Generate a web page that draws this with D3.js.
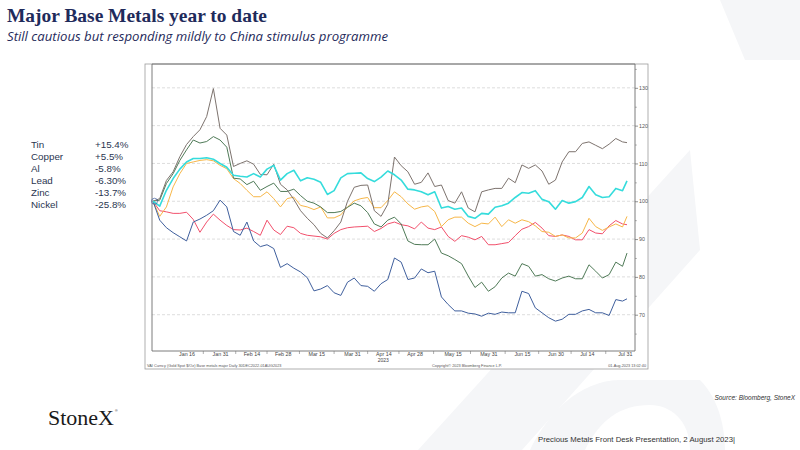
<!DOCTYPE html>
<html>
<head>
<meta charset="utf-8">
<script src="https://cdn.jsdelivr.net/npm/d3@7"></script>
<style>
  body { margin: 0; background: #fff; }
  svg { display: block; }
</style>
</head>
<body>
<svg width="800" height="450"></svg>
<script>
// sample dates (every 3 days, Jan 1 -> Aug 1 2023)
const dates = [
  "2023-01-01","2023-01-04","2023-01-07","2023-01-10","2023-01-13","2023-01-16","2023-01-19","2023-01-22","2023-01-25","2023-01-28","2023-01-31",
  "2023-02-03","2023-02-06","2023-02-09","2023-02-12","2023-02-15","2023-02-18","2023-02-21","2023-02-24","2023-02-27",
  "2023-03-02","2023-03-05","2023-03-08","2023-03-11","2023-03-14","2023-03-17","2023-03-20","2023-03-23","2023-03-26","2023-03-29",
  "2023-04-01","2023-04-04","2023-04-07","2023-04-10","2023-04-13","2023-04-16","2023-04-19","2023-04-22","2023-04-25","2023-04-28",
  "2023-05-01","2023-05-04","2023-05-07","2023-05-10","2023-05-13","2023-05-16","2023-05-19","2023-05-22","2023-05-25","2023-05-28","2023-05-31",
  "2023-06-03","2023-06-06","2023-06-09","2023-06-12","2023-06-15","2023-06-18","2023-06-21","2023-06-24","2023-06-27","2023-06-30",
  "2023-07-03","2023-07-06","2023-07-09","2023-07-12","2023-07-15","2023-07-18","2023-07-21","2023-07-24","2023-07-27","2023-07-30",
  "2023-08-01"
];

// indexed to 100 at start of year
const tin = [100, 100.7, 105.5, 107.8, 111.8, 115, 117.1, 118.9, 122.4, 129.8,
  119.3, 117.5, 109.2, 110, 110.7, 109.8, 107.1, 107, 109.8, 104.5,
  103, 100.5, 97.5, 95.5, 93.8, 91.5, 90.3, 92.2, 94.5, 100,
  103.7, 104.2, 104.3, 97.5, 96, 99.2, 111.7, 109.4, 107.8, 104.5,
  105, 107.5, 103.9, 104.3, 100.2, 99.5, 102.5, 98.2, 97.2, 102.5,
  103, 103.4, 103.4, 106.1, 104.9, 109.6, 108.7, 109.6, 108, 104.5,
  105.6, 110.4, 113.1, 113.1, 115.3, 115.7, 114.8, 113.9, 115.1, 116.6,
  115.7, 115.5];
const copper = [100, 98.7, 102.9, 106, 108.5, 110.4, 111.3, 111.3, 111.5, 111.1,
  110, 109, 106.9, 106.6, 106.4, 107.3, 106.4, 108.5, 109.5, 105.6,
  107.3, 108.2, 105.4, 106.2, 105.8, 105, 101.8, 102.8, 106.2, 107.3,
  107.4, 107.5, 106, 105.2, 106.4, 108, 107, 105.6, 103.2, 103,
  102.5, 101.7, 102.5, 98.2, 98.6, 97.9, 98.2, 96, 95.5, 96.8,
  96.6, 98.4, 98.8, 99.5, 101, 102.3, 102.1, 102.8, 100.5, 99.9,
  97.9, 100.2, 99.5, 99.9, 101, 103.9, 101.7, 101, 101.2, 103.4,
  102.8, 105.4];
const al = [100, 96, 98.5, 103.8, 107.3, 110, 110.4, 110.8, 111, 110.7,
  109.5, 108.6, 106, 104.7, 102.9, 101.2, 101.2, 102.5, 100.7, 98.5,
  100.7, 101.1, 98.9, 98.5, 97.8, 98.5, 95.6, 95.6, 96.4, 98.5,
  100.1, 100.7, 101, 98.3, 98.3, 100.2, 102.5, 101.2, 99.3, 97.9,
  98.5, 98.8, 97.3, 93.3, 95.1, 95.8, 95.8, 94.2, 93.3, 94.2,
  94, 95.8, 93.3, 95.1, 94.2, 95.1, 94.6, 93.5, 92, 91.8,
  90.7, 91.1, 90.3, 90.3, 91.6, 95.5, 93.3, 92.3, 93.2, 94,
  93.2, 96];
const lead = [100, 97.5, 97.2, 96.8, 96.8, 97.1, 95.2, 91.8, 94.5, 96.6,
  95, 93.6, 92.5, 92.4, 92.9, 92, 91, 95, 92.4, 91.2,
  93.4, 93, 91.5, 91, 90.8, 90.6, 90, 91.5, 92.5, 93,
  93.2, 93.3, 93.4, 92, 92.8, 94, 94.5, 93.8, 93.5, 92.7,
  94.5, 92.9, 92.5, 93.2, 90.7, 89.4, 90.9, 90.5, 89.8, 90.7,
  88.5, 88.5, 88.8, 89.1, 90.9, 92.6, 93.3, 94.4, 92.9, 90.9,
  90.7, 91.1, 90.7, 89.8, 89.8, 92.5, 91.6, 91.4, 93.5, 94.9,
  94, 93.8];
const zinc = [100, 100.3, 104.7, 107.3, 110.8, 113.6, 116.2, 115.4, 115.8, 117.1,
  116.2, 114.3, 106.1, 105.9, 104.4, 105.3, 102.9, 103.9, 104.8, 102.6,
  102.6, 103.2, 101.5, 100, 99.5, 98.5, 97, 97, 97.3, 98.4,
  99.5, 98.8, 97, 94, 93.2, 95, 95.8, 94, 89.5, 88.6,
  88.5, 88.5, 90, 86.3, 85.6, 84.6, 83.5, 80.2, 77.2, 78.6,
  76.2, 77.4, 79.7, 81, 80.2, 83.5, 82.8, 80.2, 80.6, 79.5,
  78.9, 79.7, 80.2, 79.5, 79.5, 83.2, 81.5, 79.7, 80.6, 83.9,
  82.8, 86.3];
const nickel = [100, 95, 93, 91.7, 90.6, 89.5, 94.5, 95.3, 96.3, 97.5,
  100.3, 98.5, 92, 91, 94.5, 89.5, 88, 88.5, 87.5, 82.5,
  83.5, 82.3, 81.3, 79.8, 76.3, 76.8, 77.7, 75.8, 75.1, 78.6,
  79.7, 77.7, 77.5, 76.2, 78.2, 79.3, 85, 83.9, 79.3, 79.7,
  82.1, 81.1, 81.5, 74.7, 72.7, 71, 71, 70.4, 70.2, 69.6,
  70.4, 70.1, 70.7, 70.5, 70.5, 76.2, 75.6, 71.8, 70.5, 69.2,
  68.3, 68.8, 70.1, 70.1, 71, 71.4, 70.5, 70.5, 69.8, 74,
  73.6, 74.2];

const metalNames = ["Tin", "Copper", "Al", "Lead", "Zinc", "Nickel"];
const metalChanges = ["+15.4%", "+5.5%", "-5.8%", "-6.30%", "-13.7%", "-25.8%"];

const tickDates = ["2023-01-16","2023-01-31","2023-02-14","2023-02-28","2023-03-15","2023-03-31","2023-04-14",
  "2023-04-28","2023-05-15","2023-05-31","2023-06-15","2023-06-30","2023-07-14","2023-07-31"];
const yTicks = [70, 80, 90, 100, 110, 120, 130];
const yMinor = [65, 75, 85, 95, 105, 115, 125, 135];

const parse = d3.timeParse("%Y-%m-%d");
const days = dates.map(parse);

const svg = d3.select("svg");
const navy = "#1f2b5b";

// faint StoneX watermark behind everything
const wm = svg.append("g").attr("fill", "#f5f6f8");
wm.append("path").attr("d", "M418,450 L522,450 L700,250 L690,150 Z");
wm.append("path").attr("d", "M720,0 L800,0 L800,60 L745,60 Z");
wm.append("path").attr("d", "M530,450 C560,390 600,380 620,380 L700,380 C720,400 725,430 725,450 L690,450 C690,420 670,405 650,405 C620,405 600,420 585,450 Z");

// titles
svg.append("text").attr("x", 7).attr("y", 22)
  .attr("font-family", "Liberation Serif, serif").attr("font-weight", "bold")
  .attr("font-size", 19).attr("fill", navy)
  .attr("textLength", 260).attr("lengthAdjust", "spacingAndGlyphs")
  .text("Major Base Metals year to date");
svg.append("text").attr("x", 7).attr("y", 41)
  .attr("font-family", "Open Sans, sans-serif").attr("font-style", "italic")
  .attr("font-size", 12.5).attr("fill", navy)
  .attr("textLength", 381).attr("lengthAdjust", "spacingAndGlyphs")
  .text("Still cautious but responding mildly to China stimulus programme");

// left legend (names + ytd change)
const leg = svg.append("g").attr("font-family", "Liberation Sans, Arial, sans-serif")
  .attr("font-size", 9.8).attr("fill", "#2a3550");
metalNames.forEach(function(n, i) {
  leg.append("text").attr("x", 31).attr("y", 147.5 + i * 12).text(n);
  leg.append("text").attr("x", 95).attr("y", 147.5 + i * 12).text(metalChanges[i]);
});

// chart box
const L = 152, R = 635, T = 64, B = 351;
svg.append("rect").attr("x", 145).attr("y", T).attr("width", 503).attr("height", 305)
  .attr("fill", "#fff").attr("stroke", "#9c9c9c").attr("stroke-width", 0.8);

let xScale = d3.scaleTime()
  .domain([parse("2023-01-01"), parse("2023-08-01")])
  .range([153, 627]);
let yScale = d3.scaleLinear()
  .domain([60.4, 136.3])
  .range([B, T]);

// dotted grid
svg.append("g").selectAll("line").data(yTicks).enter().append("line")
  .attr("x1", L).attr("x2", R)
  .attr("y1", d => yScale(d)).attr("y2", d => yScale(d))
  .attr("stroke", "#cfcfcf").attr("stroke-width", 0.7).attr("stroke-dasharray", "3,2");

// plot frame lines
svg.append("path").attr("d", `M${L},${T} L${L},${B} L${R},${B} L${R},${T} Z`)
  .attr("fill", "none").attr("stroke", "#6e6e6e").attr("stroke-width", 0.9);

// x axis labels
const xAxis = d3.axisBottom(xScale)
  .tickValues(tickDates.map(parse))
  .tickSize(0).tickPadding(1.5)
  .tickFormat(d3.timeFormat("%b %d"));
const xg = svg.append("g").attr("transform", `translate(0,${B})`).call(xAxis);
xg.select(".domain").remove();
xg.selectAll("text").attr("font-family", "Liberation Sans, sans-serif").attr("font-size", 5.3).attr("fill", "#444");
svg.append("text").attr("x", xScale(parse("2023-04-14"))).attr("y", 362)
  .attr("text-anchor", "middle").attr("font-family", "Liberation Sans, sans-serif")
  .attr("font-size", 5).attr("fill", "#444").text("2023");

// small ticks between the labels
const tickMid = d3.pairs(tickDates.map(parse)).map(p => new Date((+p[0] + +p[1]) / 2));
svg.append("g").selectAll("line").data(tickMid).enter().append("line")
  .attr("x1", d => xScale(d)).attr("x2", d => xScale(d))
  .attr("y1", B).attr("y2", B + 3)
  .attr("stroke", "#777").attr("stroke-width", 0.6);

// right axis
const yAxis = d3.axisRight(yScale).tickValues(yTicks).tickSize(3).tickPadding(1);
const yg = svg.append("g").attr("transform", `translate(${R},0)`).call(yAxis);
yg.select(".domain").remove();
yg.selectAll("line").attr("stroke", "#666").attr("stroke-width", 0.7);
yg.selectAll("text").attr("font-family", "Liberation Sans, sans-serif").attr("font-size", 5.3).attr("fill", "#555");
const ym = svg.append("g").attr("transform", `translate(${R},0)`)
  .call(d3.axisRight(yScale).tickValues(yMinor).tickSize(1.8).tickFormat(""));
ym.select(".domain").remove();
ym.selectAll("line").attr("stroke", "#777").attr("stroke-width", 0.6);

// series
const series = [
  { name: "Lead", values: lead, color: "#f2506c", w: 1 },
  { name: "Al", values: al, color: "#f7b748", w: 1 },
  { name: "Zinc", values: zinc, color: "#4f7a57", w: 1 },
  { name: "Nickel", values: nickel, color: "#3f5f9d", w: 1 },
  { name: "Tin", values: tin, color: "#7d736e", w: 1 },
  { name: "Copper", values: copper, color: "#35dcdc", w: 1.6 }
];
const line = d3.line()
  .x((d, i) => xScale(days[i]))
  .y(d => yScale(d));
svg.append("g").selectAll("path").data(series).enter().append("path")
  .attr("d", d => line(d.values))
  .attr("fill", "none")
  .attr("stroke", d => d.color)
  .attr("stroke-width", d => d.w)
  .attr("stroke-linejoin", "round");

// start marker
svg.append("circle").attr("cx", xScale(days[0]) + 1.5).attr("cy", yScale(100)).attr("r", 3)
  .attr("fill", "none").attr("stroke", "#3f5f9d").attr("stroke-width", 0.7);

// bloomberg footer inside box
const foot = svg.append("g").attr("font-family", "Liberation Sans, sans-serif").attr("font-size", 3.8).attr("fill", "#555");
foot.append("text").attr("x", 147).attr("y", 366.5).text("VAI Curncy (Gold Spot   $/Oz)   Base metals major   Daily 30DEC2022-01AUG2023");
foot.append("text").attr("x", 467).attr("y", 366.5).attr("text-anchor", "middle").text("Copyright\u00a9 2023 Bloomberg Finance L.P.");
foot.append("text").attr("x", 646).attr("y", 366.5).attr("text-anchor", "end").text("01-Aug-2023 13:02:40");

// source + footer
svg.append("text").attr("x", 795).attr("y", 400).attr("text-anchor", "end")
  .attr("font-family", "Liberation Sans, sans-serif").attr("font-style", "italic")
  .attr("font-size", 6.5).attr("fill", "#333").text("Source:  Bloomberg,  StoneX");
svg.append("text").attr("x", 48).attr("y", 425)
  .attr("font-family", "Liberation Serif, serif").attr("font-size", 21).attr("fill", "#1a1a1a")
  .attr("textLength", 66).attr("lengthAdjust", "spacingAndGlyphs").text("StoneX");
svg.append("text").attr("x", 115).attr("y", 412)
  .attr("font-family", "Liberation Sans, sans-serif").attr("font-size", 3.5).attr("fill", "#1a1a1a").text("\u00ae");
svg.append("text").attr("x", 538).attr("y", 442)
  .attr("font-family", "Liberation Sans Narrow, Liberation Sans, sans-serif").attr("font-size", 7.5).attr("fill", "#333")
  .attr("textLength", 197).attr("lengthAdjust", "spacingAndGlyphs")
  .text("Precious Metals Front Desk Presentation, 2 August 2023|");
</script>
</body>
</html>
